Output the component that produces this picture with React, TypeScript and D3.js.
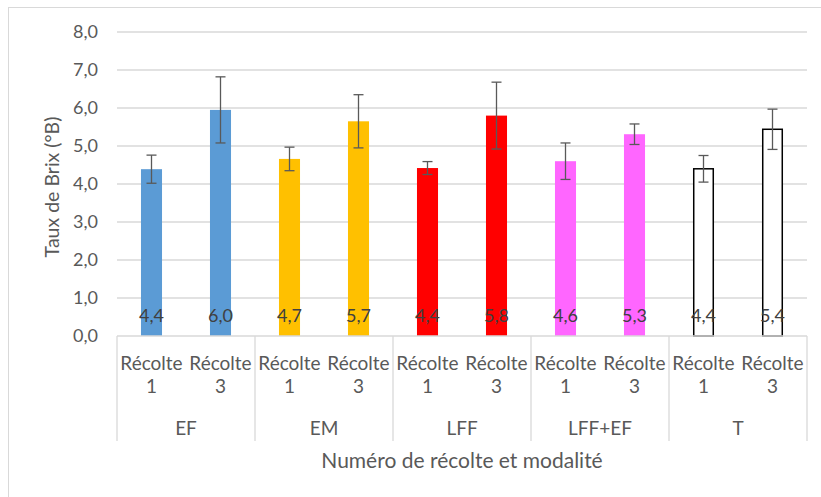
import React from "react";
import * as d3 from "d3";

const groups = ["EF", "EM", "LFF", "LFF+EF", "T"];
const harvests = ["Récolte 1", "Récolte 3"];
const values = [4.39, 5.95, 4.66, 5.65, 4.42, 5.8, 4.6, 5.31, 4.4, 5.44];
const labels = ["4,4", "6,0", "4,7", "5,7", "4,4", "5,8", "4,6", "5,3", "4,4", "5,4"];
const errors = [0.37, 0.87, 0.31, 0.7, 0.17, 0.88, 0.48, 0.27, 0.35, 0.53];
const groupColors = ["#5B9BD5", "#FFC000", "#FF0000", "#FF66FF", "#FFFFFF"];
const yTicks = [0, 1, 2, 3, 4, 5, 6, 7, 8];

const FONT = "Lato, 'Open Sans', sans-serif";
const TXT = "#595959";

export default function App() {
  const W = 821, H = 497;
  const left = 117, right = 807, top = 32, bottom = 336;
  const y = d3.scaleLinear().domain([0, 8]).range([bottom, top]);
  const cats = values.map((_, i) => i);
  const x = d3.scaleBand<number>().domain(cats).range([left, right]).paddingInner(0.695).paddingOuter(0.3475);
  const slot = (right - left) / values.length;
  const fmt = (v: number) => d3.format(".1f")(v).replace(".", ",");

  return (
    <svg width={W} height={H} style={{ position: "absolute", left: 0, top: 0, background: "#fff" }}>
      <rect x={8.5} y={7.5} width={900} height={600} fill="#fff" stroke="#D9D9D9" strokeWidth={1} />
      {yTicks.map((t) => (
        <g key={t}>
          {t > 0 && <line x1={left} x2={right} y1={y(t)} y2={y(t)} stroke="#D9D9D9" strokeWidth={1.3} />}
          <text x={98} y={y(t)} dy="0.35em" textAnchor="end" fontFamily={FONT} fontSize={18} fill={TXT}>
            {fmt(t)}
          </text>
        </g>
      ))}
      <text
        transform={`translate(52,${(top + bottom) / 2 + 3}) rotate(-90)`}
        textAnchor="middle"
        dy="0.35em"
        fontFamily={FONT}
        fontSize={19.5}
        fill={TXT}
      >
        Taux de Brix (°B)
      </text>
      {values.map((v, i) => {
        const g = Math.floor(i / 2);
        const isT = groups[g] === "T";
        const bx = x(i)!;
        const bw = x.bandwidth();
        const cx = bx + bw / 2;
        return (
          <g key={i}>
            <rect
              x={isT ? bx + 0.75 : bx}
              y={y(v)}
              width={isT ? bw - 1.5 : bw}
              height={bottom - y(v)}
              fill={groupColors[g]}
              stroke={isT ? "#000" : "none"}
              strokeWidth={isT ? 1.5 : 0}
            />
            <line x1={cx} x2={cx} y1={y(v + errors[i])} y2={y(v - errors[i])} stroke="#595959" strokeWidth={1.3} />
            <line x1={cx - 5} x2={cx + 5} y1={y(v + errors[i])} y2={y(v + errors[i])} stroke="#595959" strokeWidth={1.3} />
            <line x1={cx - 5} x2={cx + 5} y1={y(v - errors[i])} y2={y(v - errors[i])} stroke="#595959" strokeWidth={1.3} />
            <text x={cx} y={316} dy="0.35em" textAnchor="middle" fontFamily={FONT} fontSize={18} fill="#404040">
              {labels[i]}
            </text>
            <text x={left + slot * (i + 0.5)} y={363} dy="0.35em" textAnchor="middle" fontFamily={FONT} fontSize={19} fill={TXT}>
              {harvests[i % 2].split(" ")[0]}
            </text>
            <text x={left + slot * (i + 0.5)} y={386} dy="0.35em" textAnchor="middle" fontFamily={FONT} fontSize={19} fill={TXT}>
              {harvests[i % 2].split(" ")[1]}
            </text>
          </g>
        );
      })}
      <line x1={left} x2={right} y1={bottom} y2={bottom} stroke="#D9D9D9" strokeWidth={1.3} />
      {d3.range(groups.length + 1).map((k) => (
        <line key={k} x1={left + k * slot * 2} x2={left + k * slot * 2} y1={bottom} y2={441} stroke="#D9D9D9" strokeWidth={1.3} />
      ))}
      {groups.map((gname, k) => (
        <text key={gname} x={left + slot * (2 * k + 1)} y={428} dy="0.35em" textAnchor="middle" fontFamily={FONT} fontSize={19} fill={TXT}>
          {gname}
        </text>
      ))}
      <text x={(left + right) / 2} y={461} dy="0.35em" textAnchor="middle" fontFamily={FONT} fontSize={21} fill={TXT}>
        Numéro de récolte et modalité
      </text>
    </svg>
  );
}
